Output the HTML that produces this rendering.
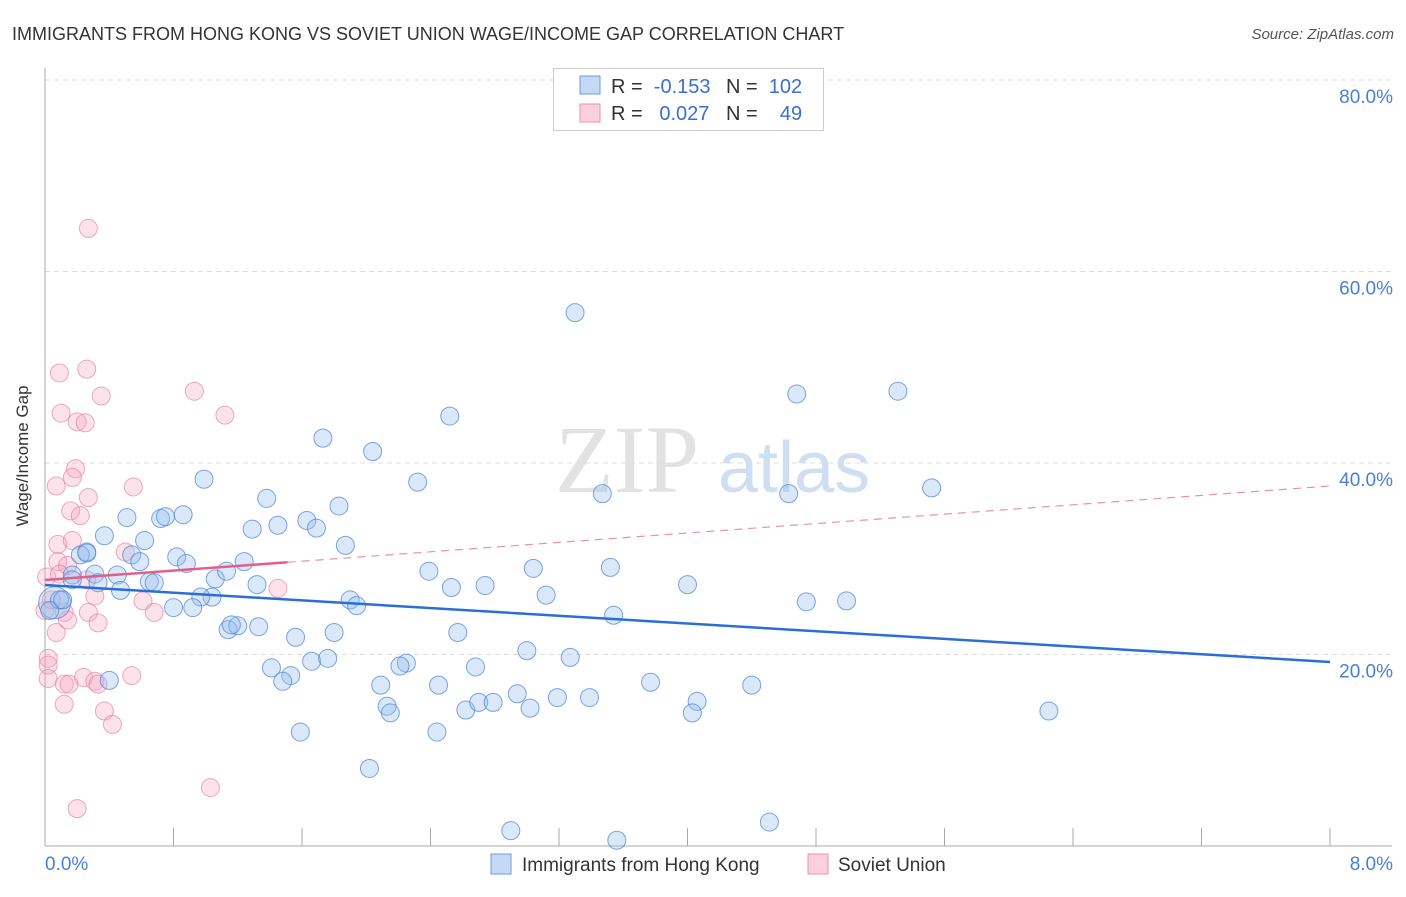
<!DOCTYPE html>
<html><head><meta charset="utf-8"><style>
body{margin:0;background:#fff;font-family:"Liberation Sans",sans-serif;}
svg text{font-family:"Liberation Sans",sans-serif;}
</style></head><body>
<svg id="chart" width="1406" height="892">
<text x="12" y="40" font-size="18" fill="#333">IMMIGRANTS FROM HONG KONG VS SOVIET UNION WAGE/INCOME GAP CORRELATION CHART</text>
<text x="1394" y="39" font-size="15" fill="#555" font-style="italic" text-anchor="end">Source: ZipAtlas.com</text>
<text x="555" y="492" font-size="96" fill="#e2e2e2" style="font-family:'Liberation Serif',serif">ZIP</text>
<text x="718" y="492" font-size="72" fill="#d0def2">atlas</text>
<g id="grid"></g>
<g id="axes"></g>
<g id="pts"></g>
<g id="trend"></g>
<text x="28" y="456" font-size="17" fill="#333" transform="rotate(-90 28 456)" text-anchor="middle">Wage/Income Gap</text>
<g>
<rect x="553.5" y="68.5" width="270" height="62" fill="#fff" stroke="#ccc"/>
<rect x="580" y="76" width="20" height="18" fill="#c5d9f5" stroke="#6a9be0"/>
<rect x="580" y="104" width="20" height="18" fill="#fbd0dc" stroke="#ec90ac"/>
<text x="611" y="93" font-size="20" fill="#333" xml:space="preserve">R =  <tspan fill="#3a6fd0">-0.153</tspan></text>
<text x="726" y="93" font-size="20" fill="#333" xml:space="preserve">N =  <tspan fill="#3a6fd0">102</tspan></text>
<text x="611" y="120" font-size="20" fill="#333" xml:space="preserve">R =  <tspan fill="#3a6fd0"> 0.027</tspan></text>
<text x="726" y="120" font-size="20" fill="#333" xml:space="preserve">N =  <tspan fill="#3a6fd0">  49</tspan></text>
</g>
<g>
<rect x="491" y="854" width="20" height="20" fill="#c5d9f5" stroke="#6a9be0"/>
<text x="522" y="871" font-size="19" fill="#333">Immigrants from Hong Kong</text>
<rect x="808" y="854" width="20" height="20" fill="#fbd0dc" stroke="#ec90ac"/>
<text x="838" y="871" font-size="19" fill="#333">Soviet Union</text>
</g>
</svg>
<script>
const blueX=[3.30,4.68,5.31,2.52,1.73,2.04,0.99,2.32,5.52,4.63,3.47,1.38,1.83,0.51,0.86,0.72,0.75,1.29,1.45,1.63,1.69,0.37,0.62,1.87,0.26,0.22,0.54,0.82,0.88,0.59,1.24,3.04,3.52,2.39,0.45,0.31,0.17,1.06,1.13,0.65,0.68,1.32,0.47,2.53,2.74,4.00,3.12,1.04,0.97,1.90,1.94,0.80,0.92,4.74,4.99,3.54,0.06,0.09,0.03,1.14,1.20,1.16,1.33,1.80,2.57,1.56,3.00,3.27,1.66,1.76,2.25,2.21,2.68,1.41,1.53,1.48,0.40,3.77,4.40,2.09,2.45,2.13,2.15,2.62,2.70,2.79,2.94,3.02,3.19,3.39,4.06,4.03,6.25,1.59,2.44,2.02,2.90,4.51,3.56,0.26,0.33,0.17,0.11];
const blueY=[55.7,47.2,47.5,44.9,42.6,41.2,38.3,38.0,37.4,36.8,36.8,36.3,35.5,34.3,34.6,34.2,34.4,33.1,33.5,34.0,33.2,32.4,31.9,31.4,30.7,30.4,30.4,30.2,29.5,29.7,29.7,29.0,29.1,28.7,28.3,28.4,28.3,27.9,28.7,27.6,27.5,27.3,26.7,27.0,27.2,27.3,26.2,26.0,26.0,25.7,25.1,24.9,24.9,25.5,25.6,24.1,25.4,25.7,24.6,22.6,23.0,23.1,22.9,22.3,22.3,21.8,20.4,19.7,19.3,19.6,19.1,18.8,18.7,18.6,17.8,17.2,17.3,17.1,16.8,16.8,16.8,14.6,13.9,14.2,15.0,15.0,15.9,14.4,15.5,15.5,15.1,13.9,14.1,11.9,11.9,8.1,1.6,2.5,0.6,30.6,27.5,27.8,25.7];
const pinkX=[0.27,0.09,0.26,0.35,0.93,1.12,0.10,0.20,0.25,0.19,0.17,0.07,0.27,0.55,0.16,0.22,0.50,0.08,0.17,0.08,0.14,0.26,0.61,0.68,0.31,0.27,0.12,0.33,0.07,1.45,0.01,0.04,0.02,0.02,0.02,0.12,0.15,0.24,0.31,0.33,0.54,0.12,0.37,0.42,1.03,0.20,0.00,0.09,0.14];
const pinkY=[64.5,49.4,49.8,47.0,47.5,45.0,45.2,44.3,44.2,39.4,38.5,37.6,36.4,37.5,35.0,34.5,30.7,31.5,31.9,29.7,29.3,27.8,25.6,24.4,26.1,24.4,24.4,23.3,22.3,26.9,28.1,25.7,19.6,18.9,17.5,16.9,16.9,17.6,17.2,16.9,17.8,14.8,14.1,12.7,6.1,3.9,24.6,28.4,23.6];
const yTicks=[20,40,60,80];
const xTicks=[0,0.8,1.6,2.4,3.2,4.0,4.8,5.6,6.4,7.2,8.0];
const blueTrend=[27.26,19.22];
const pinkTrend=[27.78,37.6];
const pinkSolidEnd=1.51;
const NS='http://www.w3.org/2000/svg';
const X0=45,X1=1330,Y0=846,Y80=80;
function sx(v){return X0+(X1-X0)*v/8;}
function sy(v){return Y0-(Y0-Y80)*v/80;}
function mk(tag,attrs,parent){const e=document.createElementNS(NS,tag);for(const k in attrs)e.setAttribute(k,attrs[k]);document.getElementById(parent).appendChild(e);return e;}
yTicks.forEach(t=>{
  const l=mk('line',{x1:X0,x2:1392,y1:sy(t),y2:sy(t),stroke:'#ddd','stroke-dasharray':'5,4'},'grid');
  
  
  const tx=mk('text',{x:1393,y:sy(t)+23,'font-size':19,fill:'#4a7fd6','text-anchor':'end'},'grid');
  tx.textContent=t.toFixed(1)+'%';
  
  
});
const ya=mk('line',{x1:X0,x2:X0,y1:68,y2:Y0,stroke:'#aaa'},'axes');


const xa=mk('line',{x1:X0,x2:1392,y1:Y0,y2:Y0,stroke:'#aaa'},'axes');


xTicks.forEach(t=>{
  const l=mk('line',{x1:sx(t),x2:sx(t),y1:Y0,y2:Y0-18,stroke:'#aaa'},'axes');
  
  
});
[[0,'start'],[8,'end']].forEach(([t,a])=>{
  const tx=mk('text',{x:t==0?45:1393,y:870,'font-size':19,fill:'#4a7fd6','text-anchor':a},'axes');
  tx.textContent=t.toFixed(1)+'%';
  
  
});
pinkX.forEach((x,i)=>{
  const c=mk('circle',{cx:sx(x),cy:sy(pinkY[i]),r:9,fill:'rgba(245,165,190,0.32)',stroke:'rgba(230,125,160,0.65)','stroke-width':1},'pts');
  
  
});
blueX.forEach((x,i)=>{
  const c=mk('circle',{cx:sx(x),cy:sy(blueY[i]),r:i==56?16:9,fill:'rgba(150,188,238,0.35)',stroke:'rgba(70,128,215,0.7)','stroke-width':1},'pts');
  
  
});
const bt=mk('line',{x1:sx(0),y1:sy(blueTrend[0]),x2:sx(8),y2:sy(blueTrend[1]),stroke:'#2a6fd6','stroke-width':2.5},'trend');


const pm=pinkTrend[0]+(pinkTrend[1]-pinkTrend[0])*pinkSolidEnd/8;
const pt=mk('line',{x1:sx(0),y1:sy(pinkTrend[0]),x2:sx(pinkSolidEnd),y2:sy(pm),stroke:'#e0608a','stroke-width':2.5},'trend');


const pd=mk('line',{x1:sx(pinkSolidEnd),y1:sy(pm),x2:sx(8),y2:sy(pinkTrend[1]),stroke:'#e890aa','stroke-width':1.2,'stroke-dasharray':'8,6'},'trend');


</script>
</body></html>
